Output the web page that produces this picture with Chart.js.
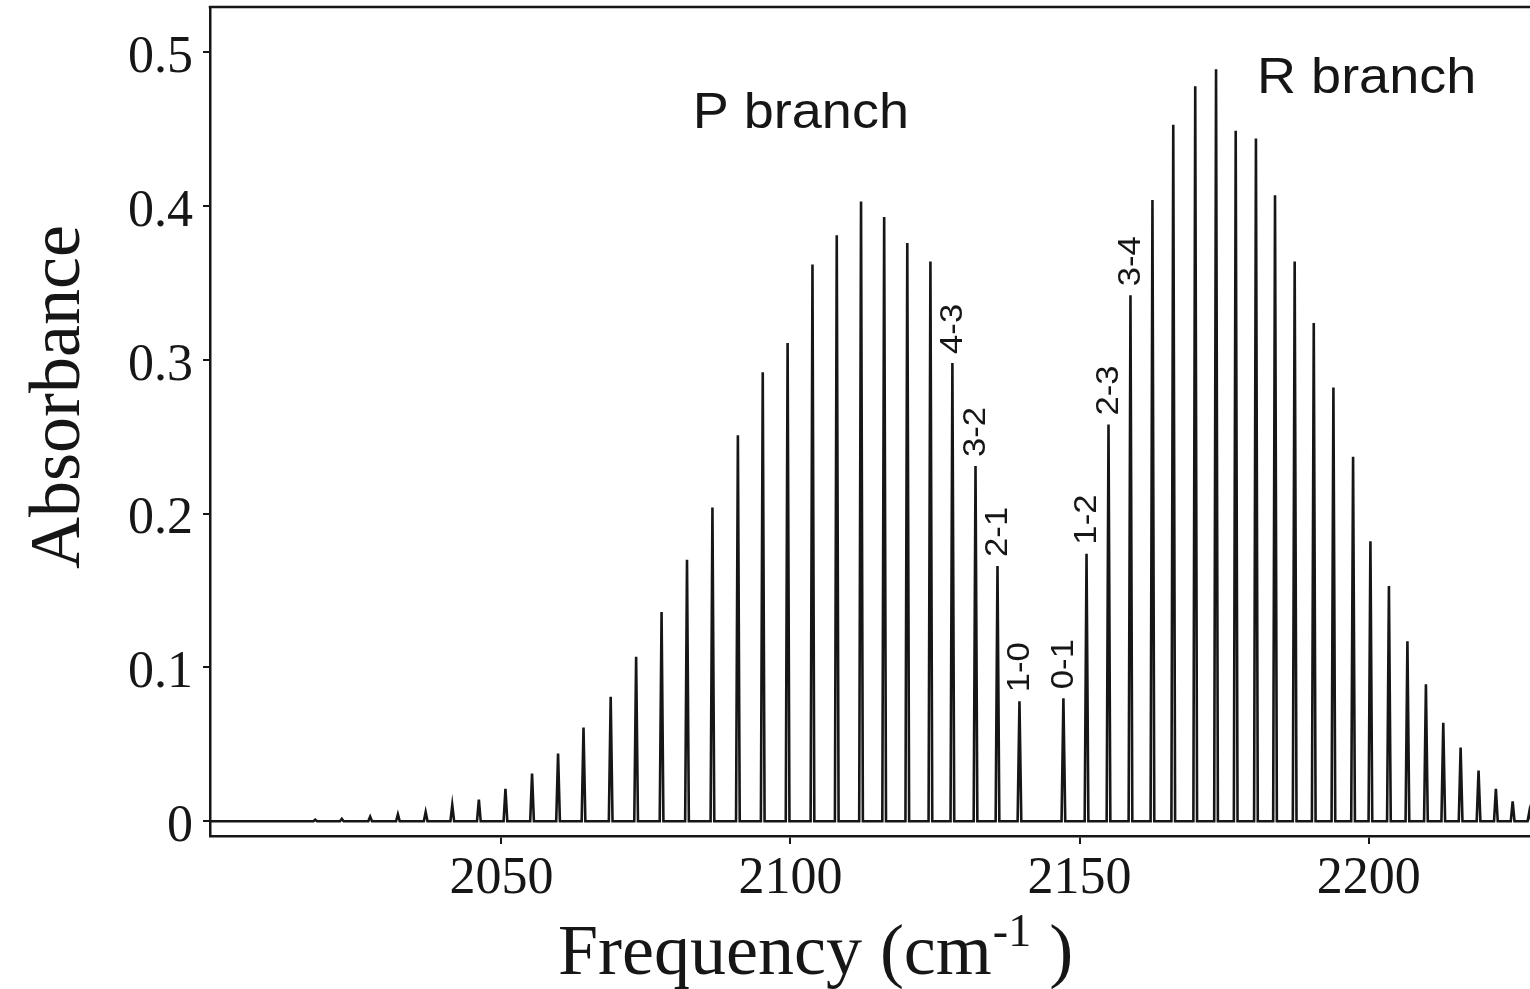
<!DOCTYPE html>
<html>
<head>
<meta charset="utf-8">
<script src="https://cdn.jsdelivr.net/npm/chart.js@4.4.1/dist/chart.umd.min.js"></script>
<style>
  html, body { margin: 0; padding: 0; background: #fff; }
  #wrap { width: 1530px; height: 989px; position: relative; }
</style>
</head>
<body>
<div id="wrap"><canvas id="espectro"></canvas></div>
<script>
// rovibrational lines of the P branch: position (cm-1) and absorbance
const linhasP = [2017.8, 2022.4, 2027.3, 2032.1, 2036.9, 2041.5, 2046.1, 2050.7, 2055.3, 2059.8,
                 2064.2, 2068.9, 2073.3, 2077.7, 2082.1, 2086.5, 2090.9, 2095.2, 2099.5, 2103.8,
                 2108.0, 2112.2, 2116.2, 2120.2, 2124.2, 2128.0, 2132.0, 2135.8, 2139.6];
const absP = [0.001, 0.0015, 0.003, 0.0045, 0.006, 0.0105, 0.014, 0.021, 0.031, 0.044,
              0.061, 0.081, 0.107, 0.136, 0.170, 0.204, 0.251, 0.292, 0.311, 0.362,
              0.381, 0.403, 0.393, 0.376, 0.364, 0.298, 0.231, 0.166, 0.078];

// R branch
const linhasR = [2147.2, 2151.2, 2155.0, 2158.8, 2162.6, 2166.2, 2170.0, 2173.6, 2177.0, 2180.5,
                 2183.8, 2187.2, 2190.5, 2193.9, 2197.3, 2200.3, 2203.5, 2206.7, 2209.9, 2212.9,
                 2215.9, 2219.0, 2222.0, 2224.9, 2227.8];
const absR = [0.080, 0.174, 0.258, 0.342, 0.404, 0.453, 0.478, 0.489, 0.449, 0.444,
              0.407, 0.364, 0.324, 0.282, 0.237, 0.182, 0.153, 0.117, 0.089, 0.064,
              0.048, 0.033, 0.021, 0.013, 0.0065];

// labelled transitions (J-J') and the line they sit on
const rotulos = ['4-3', '3-2', '2-1', '1-0', '0-1', '1-2', '2-3', '3-4'];
const rotuloFreq = [2128.0, 2132.0, 2135.8, 2139.6, 2147.2, 2151.2, 2155.0, 2158.8];

const xTicks = [2050, 2100, 2150, 2200];
const yTicks = [0, 0.1, 0.2, 0.3, 0.4, 0.5];

const X_MIN = 1999.6, X_MAX = 2227.9;
const Y_MIN = -0.0096, Y_MAX = 0.5295;

const ramos = [
    { nome: 'P branch', x: 2083.1, y: 0.451 },
    { nome: 'R branch', x: 2180.7, y: 0.4735 }
];

const SERIF = "'Liberation Serif', 'Times New Roman', serif";
const SANS = "'Liberation Sans', Arial, sans-serif";
const COR = '#161616';

// every line becomes a narrow spike standing on the baseline
function montarEspectro(freqs, abs) {
    const pts = [];
    for (let i = 0; i < freqs.length; i++) {
        pts.push({ x: freqs[i] - 0.32, y: 0 });
        pts.push({ x: freqs[i], y: abs[i] });
        pts.push({ x: freqs[i] + 0.32, y: 0 });
    }
    return pts;
}

const pontos = [{ x: X_MIN, y: 0 }]
    .concat(montarEspectro(linhasP, absP), montarEspectro(linhasR, absR), [{ x: X_MAX + 1, y: 0 }]);

function alturaDaLinha(f) {
    let i = linhasP.indexOf(f);
    if (i >= 0) return absP[i];
    i = linhasR.indexOf(f);
    return i >= 0 ? absR[i] : 0;
}

function escrever(ctx, texto, x, y, esticar) {
    ctx.save();
    ctx.translate(x, y);
    ctx.scale(esticar || 1, 1);
    ctx.fillText(texto, 0, 0);
    ctx.restore();
}

const textos = {
    id: 'textos',
    afterDraw(chart) {
        const ctx = chart.ctx;
        const a = chart.chartArea;
        const sx = chart.scales.x, sy = chart.scales.y;
        ctx.save();

        // top of the frame
        ctx.strokeStyle = COR;
        ctx.lineWidth = 2.5;
        ctx.beginPath();
        ctx.moveTo(a.left - 1.25, a.top);
        ctx.lineTo(a.right, a.top);
        ctx.stroke();

        ctx.fillStyle = COR;

        // branch names
        ctx.font = '50px ' + SANS;
        ctx.textAlign = 'left';
        ctx.textBaseline = 'alphabetic';
        ramos.forEach(r => {
            escrever(ctx, r.nome, sx.getPixelForValue(r.x), sy.getPixelForValue(r.y), 1.08);
        });

        // transition labels, written upwards above their line
        ctx.font = '31px ' + SANS;
        ctx.textBaseline = 'middle';
        for (let i = 0; i < rotulos.length; i++) {
            const px = sx.getPixelForValue(rotuloFreq[i]);
            const py = sy.getPixelForValue(alturaDaLinha(rotuloFreq[i])) - 9;
            ctx.save();
            ctx.translate(px + 1, py);
            ctx.rotate(-Math.PI / 2);
            ctx.scale(1.12, 1);
            ctx.fillText(rotulos[i], 0, 0);
            ctx.restore();
        }

        // axis titles
        ctx.font = '72px ' + SERIF;
        ctx.textBaseline = 'alphabetic';
        ctx.save();
        ctx.translate(79, 397);
        ctx.rotate(-Math.PI / 2);
        ctx.textAlign = 'center';
        ctx.fillText('Absorbance', 0, 0);
        ctx.restore();

        ctx.textAlign = 'left';
        const x0 = 558, base = 974;
        const parte1 = 'Frequency (cm';
        ctx.fillText(parte1, x0, base);
        let xa = x0 + ctx.measureText(parte1).width + 1;
        ctx.font = '46px ' + SERIF;
        ctx.fillText('-1', xa, base - 28);
        xa += ctx.measureText('-1').width;
        ctx.font = '72px ' + SERIF;
        ctx.fillText(' )', xa, base);

        ctx.restore();
    }
};

new Chart(document.getElementById('espectro'), {
    type: 'line',
    data: {
        datasets: [{
            data: pontos,
            borderColor: COR,
            borderWidth: 2.6,
            pointRadius: 0,
            tension: 0,
            fill: false
        }]
    },
    options: {
        responsive: true,
        maintainAspectRatio: false,
        animation: false,
        layout: { padding: { top: 7, right: 0, bottom: 0, left: 0 } },
        plugins: {
            legend: { display: false },
            tooltip: { enabled: false }
        },
        scales: {
            x: {
                type: 'linear',
                min: X_MIN,
                max: X_MAX,
                afterBuildTicks: s => { s.ticks = xTicks.map(v => ({ value: v })); },
                afterFit: s => { s.height = 153; s.paddingLeft = 0; s.paddingRight = 0; },
                grid: { display: true, drawOnChartArea: false, drawTicks: true, tickLength: 8, color: COR, lineWidth: 2 },
                border: { display: true, color: COR, width: 2.5 },
                ticks: {
                    font: { family: SERIF, size: 52 },
                    color: COR,
                    padding: 4,
                    maxRotation: 0,
                    autoSkip: false,
                    callback: v => String(v)
                }
            },
            y: {
                type: 'linear',
                min: Y_MIN,
                max: Y_MAX,
                afterBuildTicks: s => { s.ticks = yTicks.map(v => ({ value: v })); },
                afterFit: s => { s.width = 210; s.paddingTop = 0; s.paddingBottom = 0; },
                grid: { display: true, drawOnChartArea: false, drawTicks: true, tickLength: 7, color: COR, lineWidth: 2 },
                border: { display: true, color: COR, width: 2.5 },
                ticks: {
                    font: { family: SERIF, size: 52 },
                    color: COR,
                    padding: 10,
                    labelOffset: 6,
                    autoSkip: false,
                    callback: v => (v === 0 ? '0' : v.toFixed(1))
                }
            }
        }
    },
    plugins: [textos]
});
</script>
</body>
</html>
